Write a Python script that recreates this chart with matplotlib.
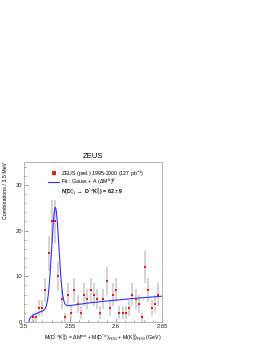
import numpy as np
import matplotlib
matplotlib.use("Agg")
import matplotlib.pyplot as plt
from matplotlib.ticker import MultipleLocator

plt.rcParams['font.family'] = ['Liberation Sans', 'DejaVu Sans']
plt.rcParams['mathtext.fontset'] = 'custom'
plt.rcParams['mathtext.rm'] = 'Liberation Sans'
plt.rcParams['mathtext.it'] = 'Liberation Sans:italic'
plt.rcParams['mathtext.bf'] = 'Liberation Sans:bold'

# data: bin centres (GeV) and counts per 3.5 MeV bin
first_bin = 2.5093
bin_width = 0.0035
counts = [1, 1, 3, 3, 7, 15, 22, 22, 10, 5, 1, 6, 2, 7, 4, 2, 6, 5, 7, 6,
          5, 2, 5, 9, 3, 6, 7, 2, 2, 2, 3, 6, 5, 4, 1, 12, 7, 3, 4, 6]
mass = first_bin + bin_width * np.arange(len(counts))
errors = np.sqrt(counts)

# fit parameters: Gauss + A*(dM)^B
threshold = 2.5055
g_amp = 22.0
g_mean = 2.5340
g_sigma = 0.0039
bg_A = 11.76
bg_B = 0.38

xf = np.linspace(threshold, 2.65, 600)
fit = g_amp * np.exp(-0.5 * ((xf - g_mean) / g_sigma) ** 2) + bg_A * (xf - threshold) ** bg_B

fig = plt.figure(figsize=(2.68, 3.46), dpi=100)
ax = fig.add_axes([24 / 268, 1 - 322 / 346, 138 / 268, 160 / 346])

ax.errorbar(mass, counts, yerr=errors, fmt='none', ecolor='#c8c8c8', elinewidth=1.1, capsize=0, zorder=1)
pts, = ax.plot(mass, counts, 's', color='#ff1010', markersize=1.8, markeredgewidth=0, zorder=3)
line, = ax.plot(xf, fit, color='#3030ff', lw=0.8, zorder=2)

ax.set_xlim(2.5, 2.65)
ax.set_ylim(0, 35)
ax.set_xticks([2.5, 2.55, 2.6, 2.65])
ax.set_xticklabels(['2.5', '2.55', '2.6', '2.65'])
ax.set_yticks([0, 10, 20, 30])
ax.xaxis.set_minor_locator(MultipleLocator(0.01))
ax.yaxis.set_minor_locator(MultipleLocator(2))
ax.tick_params(which='both', direction='in', labelsize=4.2, colors='#555555', labelcolor='#222222', width=0.4)
ax.tick_params(which='major', length=3, pad=1.5)
ax.tick_params(which='minor', length=1.5)
for s in ax.spines.values():
    s.set_color('#aaaaaa')
    s.set_linewidth(0.6)

ax.set_title('ZEUS', fontsize=5.5, pad=3)
ax.set_ylabel('Combinations / 3.5 MeV', fontsize=3.8, loc='top', labelpad=5)
ax.set_xlabel(r'M(D$^{*\pm}$K$^{0}_{S}$) = $\Delta$M$^{ext}$ + M(D$^{*\pm}$)$_{PDG}$ + M(K$^{0}_{S}$)$_{PDG}$ (GeV)',
              fontsize=3.8, loc='right', labelpad=2)

leg_kw = dict(loc='center left', frameon=False, fontsize=3.8, handlelength=2.1,
              handletextpad=0.4, borderpad=0, borderaxespad=0, markerscale=1.3)
leg1 = ax.legend([pts], [r'ZEUS (prel.) 1995-2000 (127 pb$^{-1}$)'],
                 bbox_to_anchor=(0.174, 0.929), **leg_kw)
ax.add_artist(leg1)
ax.legend([line], [r'Fit : Gauss + A ($\Delta$M$^{fit}$)$^{B}$'],
          bbox_to_anchor=(0.174, 0.873), **leg_kw)
ax.text(0.268, 0.812, r'N(D$_{s1}^{\pm}$ $\rightarrow$ D$^{*\pm}$K$^{0}_{S}$) = 62 $\pm$ 9',
        transform=ax.transAxes, fontsize=3.8, fontweight='bold', va='center', ha='left')

fig.savefig('out.png', dpi=100)
